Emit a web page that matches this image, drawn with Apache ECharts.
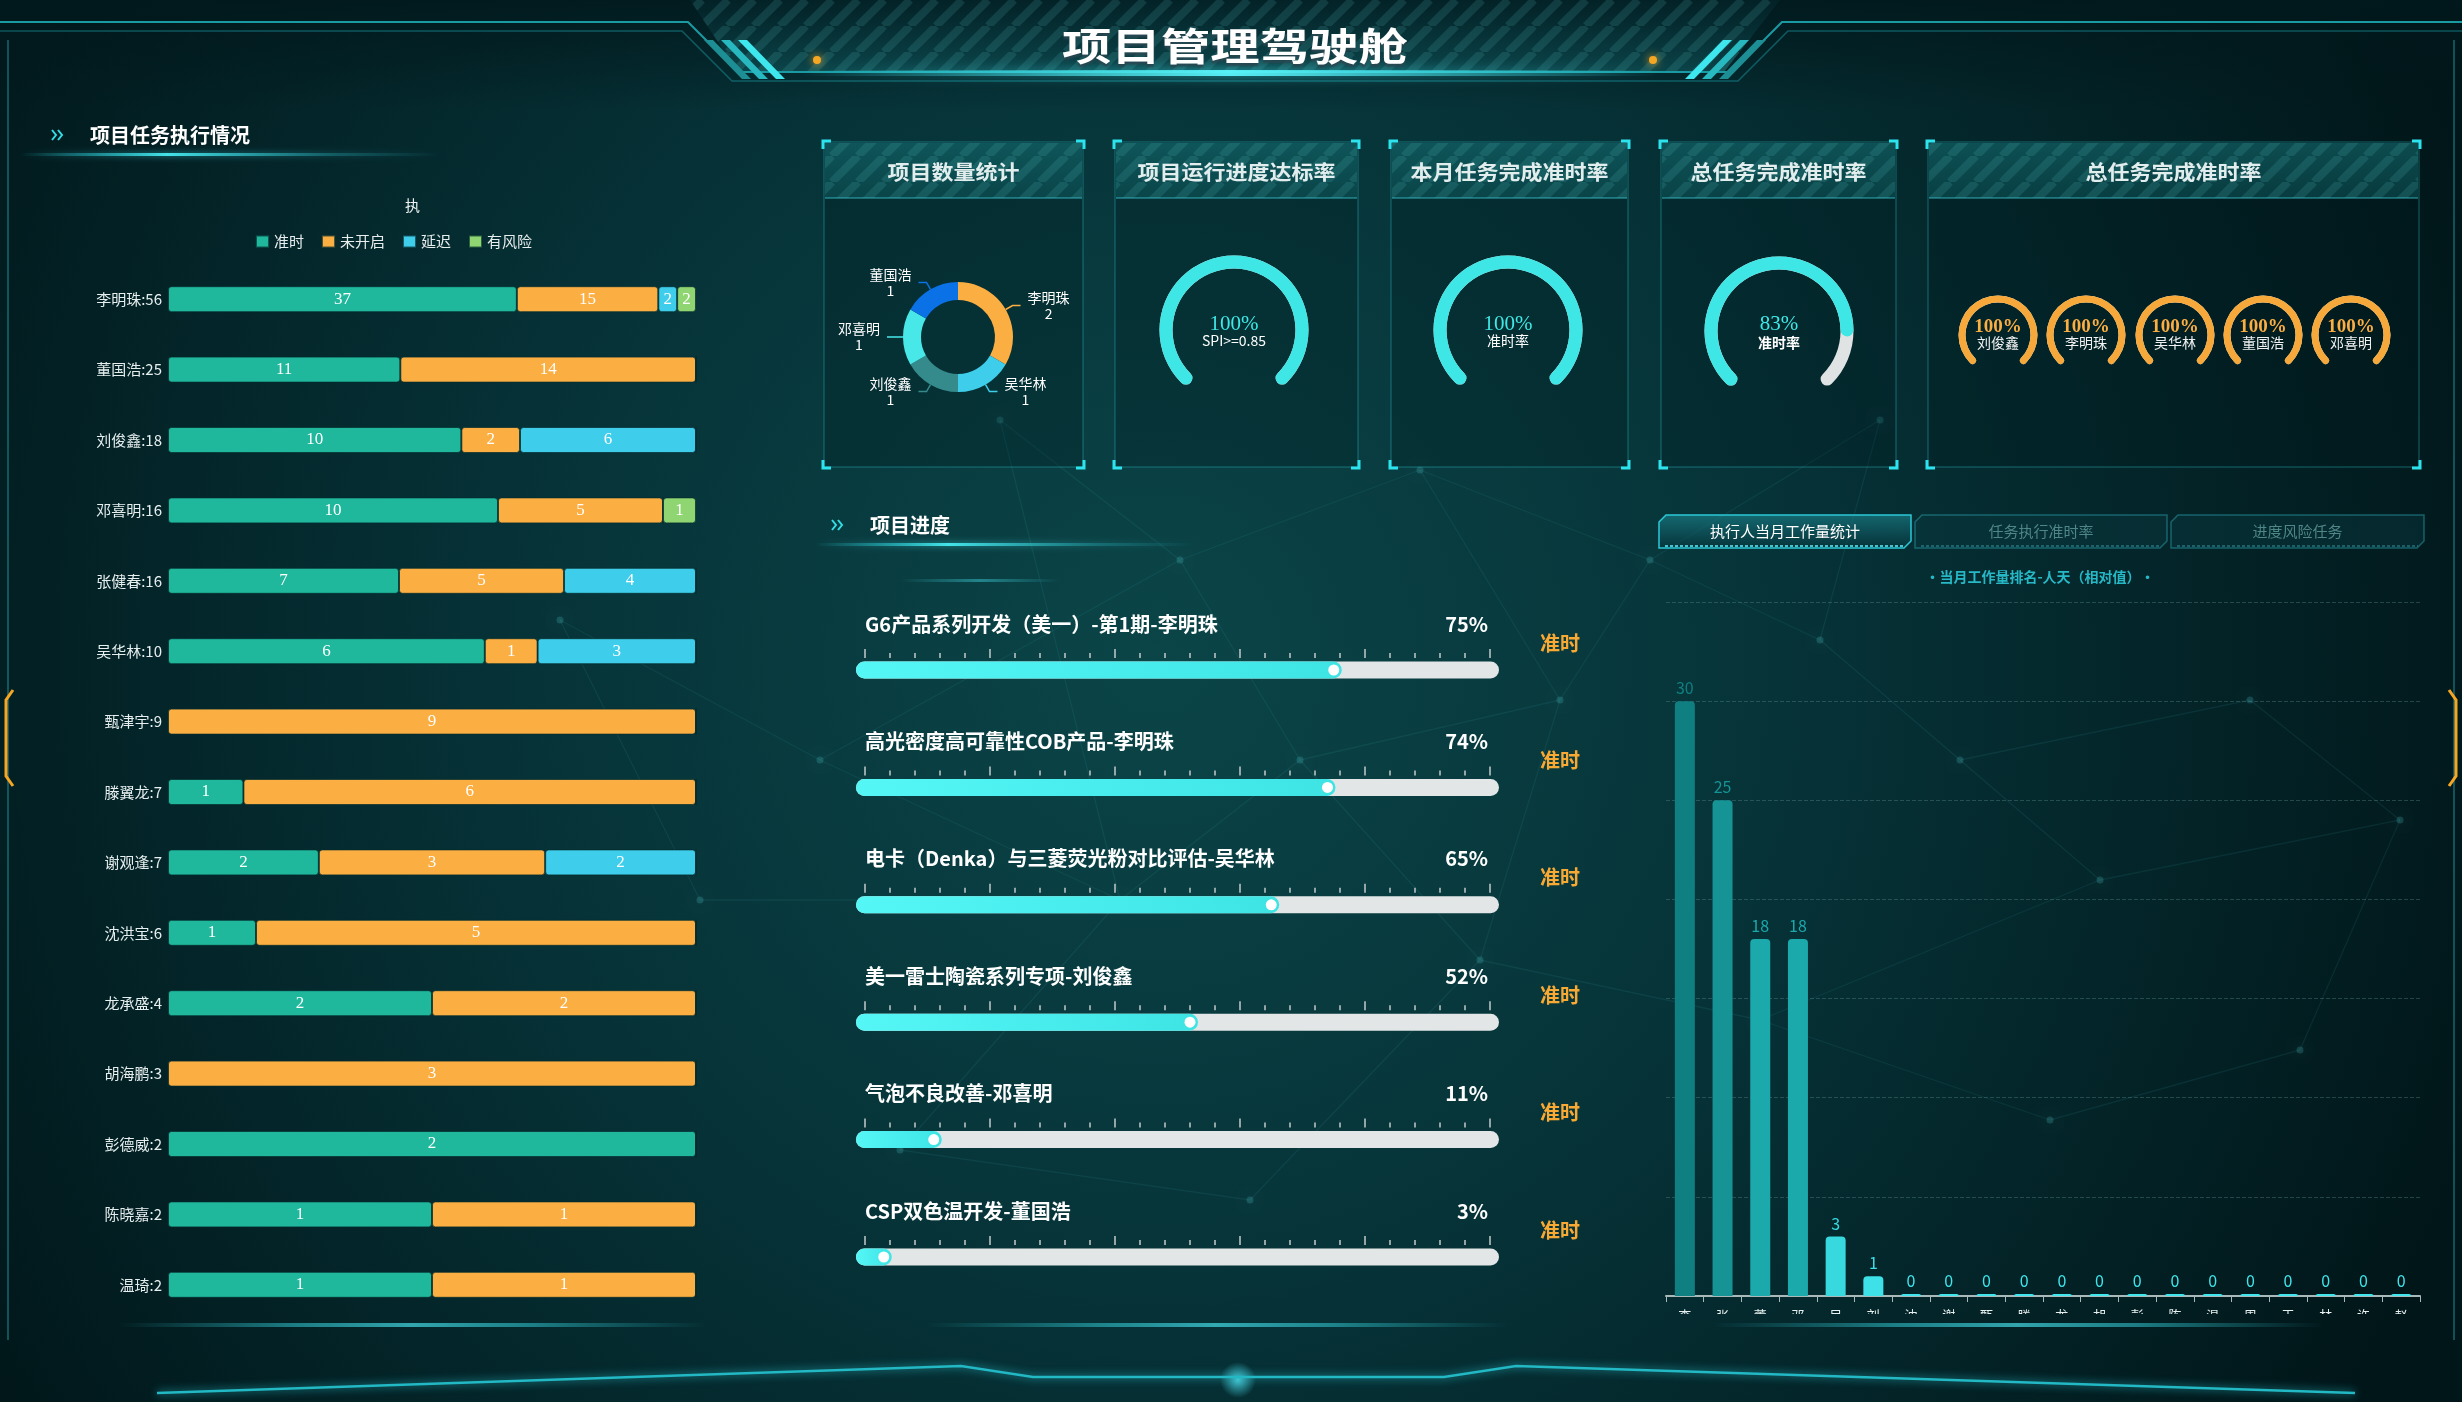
<!DOCTYPE html>
<html><head><meta charset="utf-8">
<script src="https://cdn.jsdelivr.net/npm/echarts@6/dist/echarts.min.js"></script>
<style>
html,body{margin:0;padding:0;width:2462px;height:1402px;overflow:hidden;background:#032427;}
#main{position:absolute;left:0;top:0;width:2462px;height:1402px;}
#work{position:absolute;left:1650px;top:590px;width:790px;height:724px;}
</style></head><body>
<div id="main"></div><div id="work"></div>
<script>
// ---------------- DATA ----------------
const pageTitle = '项目管理驾驶舱';
const taskPanelTitle = '项目任务执行情况';
const taskChartTitle = '执';
const statusNames = ['准时','未开启','延迟','有风险'];
const taskPeople = ['李明珠','董国浩','刘俊鑫','邓喜明','张健春','吴华林','甄津宇','滕翼龙','谢观逢','沈洪宝','龙承盛','胡海鹏','彭德威','陈晓嘉','温琦'];
const taskOnTime     = [37,11,10,10,7,6,0,1,2,1,2,0,2,1,1];
const taskNotStarted = [15,14,2,5,5,1,9,6,3,5,2,3,0,1,1];
const taskDelayed    = [2,0,6,0,4,3,0,0,2,0,0,0,0,0,0];
const taskRisk       = [2,0,0,1,0,0,0,0,0,0,0,0,0,0,0];

const projectPanelTitle = '项目数量统计';
const projectOwners = ['李明珠','吴华林','刘俊鑫','邓喜明','董国浩'];
const projectCounts = [2,1,1,1,1];

const kpiTitles = ['项目运行进度达标率','本月任务完成准时率','总任务完成准时率'];
const kpiValues = [100,100,83];
const kpiSubs = ['SPI>=0.85','准时率','准时率'];

const personRateTitle = '总任务完成准时率';
const personRateNames = ['刘俊鑫','李明珠','吴华林','董国浩','邓喜明'];
const personRateValues = [100,100,100,100,100];

const progressTitle = '项目进度';
const progressNames = ['G6产品系列开发（美一）-第1期-李明珠','高光密度高可靠性COB产品-李明珠','电卡（Denka）与三菱荧光粉对比评估-吴华林','美一雷士陶瓷系列专项-刘俊鑫','气泡不良改善-邓喜明','CSP双色温开发-董国浩'];
const progressValues = [75,74,65,52,11,3];
const progressStatus = ['准时','准时','准时','准时','准时','准时'];

const tabNames = ['执行人当月工作量统计','任务执行准时率','进度风险任务'];
const workloadSubtitle = '•当月工作量排名-人天（相对值）•';
const workloadNames = ['李明珠','张健春','董国浩','邓喜明','吴华林','刘俊鑫','沈洪宝','谢观逢','甄津宇','滕翼龙','龙承盛','胡海鹏','彭德威','陈晓嘉','温琦','周立','王涛','林峰','许明','赵磊'];
const workloadValues = [30,25,18,18,3,1,0,0,0,0,0,0,0,0,0,0,0,0,0,0];

// ---------------- STYLE ----------------
const W = 2462, H = 1402;
const F = "'Noto Sans CJK SC','Noto Sans',sans-serif";
const SERIF = "'Liberation Serif','DejaVu Serif',serif";
const statusColors = ['#1fb89d','#fbae42','#3ecdea','#8fd672'];
const pieColors = ['#fbae42','#3ecdea','#358a8b','#48e8e8','#0a72e6'];

function stripeCanvas(color){
  const c = document.createElement('canvas'); c.width = 26; c.height = 26;
  const g = c.getContext('2d'); g.strokeStyle = color; g.lineWidth = 8;
  for (let k = -26; k <= 52; k += 26){ g.beginPath(); g.moveTo(k,26); g.lineTo(k+26,0); g.stroke(); }
  return c;
}
const stripes = stripeCanvas('rgba(90,190,190,0.16)');

const G = [];
// background
G.push({type:'rect', z:-100, silent:true, shape:{x:0,y:0,width:W,height:H},
  style:{fill:{type:'radial',x:0.47,y:0.47,r:1.0,colorStops:[{offset:0,color:'#0b4548'},{offset:0.45,color:'#063338'},{offset:1,color:'#011619'}]}}});
G.push({type:'rect', z:-99, silent:true, shape:{x:0,y:0,width:W,height:110},
  style:{fill:{type:'linear',x:0,y:0,x2:0,y2:1,colorStops:[{offset:0,color:'rgba(1,24,28,0.85)'},{offset:1,color:'rgba(1,24,28,0)'}]}}});
// faint network texture (decoration)
const netNodes = [[1000,420],[1180,560],[1420,470],[1560,700],[1300,760],[1120,900],[1480,960],[1650,560],[1820,640],[1960,760],[2100,880],[2250,700],[2400,820],[1760,1020],[2050,1120],[900,1150],[1250,1200],[2300,1050],[700,900],[1880,420],[560,620],[820,760]];
const netEdges = [[0,1],[1,2],[1,4],[2,3],[3,4],[4,5],[4,6],[3,6],[3,7],[7,8],[8,9],[9,10],[9,11],[11,12],[10,12],[10,13],[13,6],[13,14],[14,17],[12,17],[5,15],[15,16],[16,6],[5,18],[7,19],[19,8],[2,7],[0,5],[18,20],[20,21],[21,5],[21,1]];
netEdges.forEach(e => G.push({type:'line', z:-90, silent:true, shape:{x1:netNodes[e[0]][0],y1:netNodes[e[0]][1],x2:netNodes[e[1]][0],y2:netNodes[e[1]][1]}, style:{stroke:'rgba(60,175,180,0.11)',lineWidth:1.3}}));
netNodes.forEach(n => G.push({type:'circle', z:-90, silent:true, shape:{cx:n[0],cy:n[1],r:3.5}, style:{fill:'rgba(80,200,205,0.22)',shadowBlur:10,shadowColor:'rgba(80,200,205,0.4)'}}));

// ---- top header ----
G.push({type:'polygon', z:1, silent:true, shape:{points:[[690,0],[1780,0],[1724,72],[738,72]]},
  style:{fill:{type:'linear',x:0,y:0,x2:0,y2:1,colorStops:[{offset:0,color:'rgba(6,50,56,0.3)'},{offset:1,color:'rgba(16,92,98,0.55)'}]}}});
G.push({type:'polygon', z:1, silent:true, shape:{points:[[690,0],[1780,0],[1724,72],[738,72]]}, style:{fill:{image:stripes,repeat:'repeat'}}});
G.push({type:'polyline', z:2, silent:true, shape:{points:[[0,22],[688,22],[738,72],[1732,72],[1782,22],[W,22]]}, style:{stroke:'#1a9aa2',lineWidth:2,fill:null}});
G.push({type:'polyline', z:2, silent:true, shape:{points:[[0,31],[682,31],[732,81],[1738,81],[1788,31],[W,31]]}, style:{stroke:'rgba(30,160,170,0.45)',lineWidth:1.5,fill:null}});
G.push({type:'rect', z:3, silent:true, shape:{x:800,y:70,width:860,height:6},
  style:{fill:{type:'linear',x:0,y:0,x2:1,y2:0,colorStops:[{offset:0,color:'rgba(60,230,240,0)'},{offset:0.5,color:'rgba(90,245,250,0.95)'},{offset:1,color:'rgba(60,230,240,0)'}]},shadowBlur:12,shadowColor:'rgba(60,230,240,0.8)'}});
const chevC = ['#1c8e94','#27b8c0','#3ee6ee'];
for (let k = 0; k < 3; k++){
  const x0 = 704 + k*17;
  G.push({type:'polygon', z:3, silent:true, shape:{points:[[x0,40],[x0+9,40],[x0+47,79],[x0+38,79]]}, style:{fill:chevC[k]}});
  const xr = 2470 - x0;
  G.push({type:'polygon', z:3, silent:true, shape:{points:[[xr,40],[xr-9,40],[xr-47,79],[xr-38,79]]}, style:{fill:chevC[k]}});
}
G.push({type:'circle', z:3, silent:true, shape:{cx:817,cy:60,r:4}, style:{fill:'#f5a623',shadowBlur:8,shadowColor:'#f5a623'}});
G.push({type:'circle', z:3, silent:true, shape:{cx:1653,cy:60,r:4}, style:{fill:'#f5a623',shadowBlur:8,shadowColor:'#f5a623'}});
G.push({type:'text', z:10, x:1235, y:46, scaleX:1.3, style:{text:pageTitle, x:0, y:0, textAlign:'center', verticalAlign:'middle', fill:'#ffffff', fontSize:38, fontWeight:'bold', fontFamily:F, textShadowColor:'rgba(40,70,80,0.9)', textShadowOffsetY:3, textShadowBlur:2}});

// ---- page side edges ----
G.push({type:'line', z:1, silent:true, shape:{x1:8,y1:40,x2:8,y2:1340}, style:{stroke:'rgba(40,170,180,0.4)',lineWidth:2}});
G.push({type:'line', z:1, silent:true, shape:{x1:W-8,y1:40,x2:W-8,y2:1340}, style:{stroke:'rgba(40,170,180,0.4)',lineWidth:2}});
G.push({type:'polyline', z:2, silent:true, shape:{points:[[13,690],[6,700],[6,776],[13,786]]}, style:{stroke:'#f5a623',lineWidth:3,fill:null}});
G.push({type:'polyline', z:2, silent:true, shape:{points:[[W-13,690],[W-6,700],[W-6,776],[W-13,786]]}, style:{stroke:'#f5a623',lineWidth:3,fill:null}});

// ---- section headers ----
function sectionHeader(ax, ay, text, gx, gw){
  [0,6].forEach(d => G.push({type:'polyline', z:5, silent:true, shape:{points:[[ax+d,ay-5],[ax+d+4,ay],[ax+d,ay+5]]}, style:{stroke:'#34dce6',lineWidth:2,fill:null}}));
  G.push({type:'text', z:10, style:{text:text, x:ax+38, y:ay, verticalAlign:'middle', fill:'#ffffff', fontSize:20, fontWeight:'bold', fontFamily:F}});
  G.push({type:'rect', z:3, silent:true, shape:{x:gx,y:ay+18,width:gw,height:3},
    style:{fill:{type:'linear',x:0,y:0,x2:1,y2:0,colorStops:[{offset:0,color:'rgba(40,200,210,0)'},{offset:0.15,color:'rgba(40,200,210,0.45)'},{offset:0.35,color:'rgba(70,235,240,0.95)'},{offset:0.75,color:'rgba(40,180,190,0.3)'},{offset:1,color:'rgba(40,180,190,0)'}]},shadowBlur:6,shadowColor:'rgba(60,220,230,0.7)'}});
}
sectionHeader(52, 135, taskPanelTitle, 20, 420);
sectionHeader(832, 525, progressTitle, 815, 380);
G.push({type:'rect', z:3, silent:true, shape:{x:900,y:579,width:160,height:3},
  style:{fill:{type:'linear',x:0,y:0,x2:1,y2:0,colorStops:[{offset:0,color:'rgba(60,200,210,0)'},{offset:0.5,color:'rgba(60,200,210,0.5)'},{offset:1,color:'rgba(60,200,210,0)'}]}}});

// ---- top panels ----
const panels = [[824,1083],[1115,1358],[1391,1628],[1661,1896],[1928,2419]];
const panelTitles = [projectPanelTitle, kpiTitles[0], kpiTitles[1], kpiTitles[2], personRateTitle];
panels.forEach((p, i) => {
  const x0 = p[0], x1 = p[1], y0 = 142, y1 = 467, w = x1 - x0;
  G.push({type:'rect', z:1, silent:true, shape:{x:x0,y:y0,width:w,height:y1-y0}, style:{fill:'rgba(1,26,30,0.28)', stroke:'rgba(45,190,200,0.45)', lineWidth:1}});
  G.push({type:'rect', z:1, silent:true, shape:{x:x0+1,y:y0+1,width:w-2,height:55},
    style:{fill:{type:'linear',x:0,y:0,x2:0,y2:1,colorStops:[{offset:0,color:'rgba(22,118,122,0.55)'},{offset:1,color:'rgba(14,92,96,0.5)'}]}}});
  G.push({type:'rect', z:1, silent:true, shape:{x:x0+1,y:y0+1,width:w-2,height:55}, style:{fill:{image:stripes,repeat:'repeat'}}});
  G.push({type:'line', z:2, silent:true, shape:{x1:x0+1,y1:y0+56,x2:x1-1,y2:y0+56}, style:{stroke:'rgba(60,200,210,0.55)',lineWidth:1.5}});
  const a = 8, cc = '#2de4ee';
  [[x0-1,y0-1,1,1],[x1+1,y0-1,-1,1],[x0-1,y1+1,1,-1],[x1+1,y1+1,-1,-1]].forEach(c => {
    G.push({type:'polyline', z:3, silent:true, shape:{points:[[c[0],c[1]+c[3]*a],[c[0],c[1]],[c[0]+c[2]*a,c[1]]]}, style:{stroke:cc,lineWidth:3,fill:null}});
  });
  G.push({type:'text', z:10, x:(x0+x1)/2, y:y0+30, scaleX:1.1, style:{text:panelTitles[i], x:0, y:0, textAlign:'center', verticalAlign:'middle', fill:'#e2eeee', fontSize:20, fontWeight:'bold', fontFamily:F, textShadowColor:'rgba(0,0,0,0.4)', textShadowOffsetY:1}});
});

// ---- tabs ----
const tabs = [[1659,1911],[1915,2167],[2171,2424]];
tabs.forEach((t, i) => {
  const x0 = t[0], x1 = t[1], y0 = 515, y1 = 548, act = i === 0;
  G.push({type:'polygon', z:2, silent:true, shape:{points:[[x0+7,y0],[x1,y0],[x1,y1-7],[x1-7,y1],[x0,y1],[x0,y0+7]]},
    style:{fill:act?{type:'linear',x:0,y:0,x2:0,y2:1,colorStops:[{offset:0,color:'rgba(30,140,150,0.6)'},{offset:1,color:'rgba(6,50,58,0.6)'}]}:'rgba(8,58,64,0.45)',
      stroke:act?'#2bc8d8':'rgba(40,150,160,0.55)', lineWidth:1.5}});
  G.push({type:'line', z:3, silent:true, shape:{x1:x0+6,y1:y1-2,x2:x1-6,y2:y1-2}, style:{stroke:act?'rgba(90,230,240,0.8)':'rgba(60,160,170,0.45)',lineWidth:2, lineDash:[3,2]}});
  G.push({type:'text', z:10, style:{text:tabNames[i], x:(x0+x1)/2, y:531, textAlign:'center', verticalAlign:'middle', fill:act?'#ffffff':'#4f8688', fontSize:15, fontFamily:F}});
});
G.push({type:'text', z:10, style:{text:workloadSubtitle, x:2040, y:577, textAlign:'center', verticalAlign:'middle', fill:'#26b8c6', fontSize:14, fontWeight:'bold', fontFamily:F}});

// ---- bottom decorations ----
[[118,706],[926,1507],[1711,2323]].forEach(s => {
  G.push({type:'rect', z:2, silent:true, shape:{x:s[0],y:1323,width:s[1]-s[0],height:4},
    style:{fill:{type:'linear',x:0,y:0,x2:1,y2:0,colorStops:[{offset:0,color:'rgba(40,190,200,0)'},{offset:0.3,color:'rgba(50,200,210,0.55)'},{offset:0.5,color:'rgba(70,220,230,0.7)'},{offset:0.7,color:'rgba(50,200,210,0.55)'},{offset:1,color:'rgba(40,190,200,0)'}]}}});
});
G.push({type:'ellipse', z:1, silent:true, shape:{cx:1238,cy:1380,rx:150,ry:18},
  style:{fill:{type:'radial',x:0.5,y:0.5,r:0.5,colorStops:[{offset:0,color:'rgba(80,230,245,0.8)'},{offset:1,color:'rgba(80,230,245,0)'}]}}});
G.push({type:'polyline', z:2, silent:true, shape:{points:[[157,1393],[961,1366],[1033,1377],[1444,1377],[1516,1366],[2355,1393]]},
  style:{stroke:'#22b8c4',lineWidth:2.5,fill:null,shadowBlur:8,shadowColor:'rgba(50,220,235,0.8)'}});

// ---------------- derived values for the 100% stacked bar ----------------
const taskRaw = [taskOnTime, taskNotStarted, taskDelayed, taskRisk];
const taskTotals = taskPeople.map((n, i) => taskRaw.reduce((s, arr) => s + arr[i], 0));
const taskPct = taskRaw.map(arr => arr.map((v, i) => v / taskTotals[i] * 100));

// ---------------- grids / axes ----------------
const progCenters = progressValues.map((v, i) => 670 + 117.4 * i);
const grids = [
  {left:168, top:264, width:528, height:1056, outerBoundsMode:'none'},
  {left:856, top:611.3, width:643, height:704.4, outerBoundsMode:'none'}
];
const xAxes = [
  {gridIndex:0, type:'value', min:0, max:100, show:false},
  {gridIndex:1, type:'value', min:-1.44, max:101.44, show:false}
];
const yAxes = [
  {gridIndex:0, type:'category', inverse:true, data:taskPeople.map((n, i) => n + ':' + taskTotals[i]),
    axisLine:{show:false}, axisTick:{show:false}, axisLabel:{color:'#e6eeee', fontSize:15, margin:6, fontFamily:F, interval:0}},
  {gridIndex:1, type:'category', inverse:true, data:progressNames, show:false}
];
progCenters.forEach((cy, i) => {
  grids.push({left:865, top:cy - 14, width:625, height:2, outerBoundsMode:'none'});
  xAxes.push({gridIndex:2 + i, type:'value', min:0, max:100, interval:20, position:'top',
    axisLine:{show:false}, axisLabel:{show:false}, splitLine:{show:false},
    axisTick:{show:true, length:9, lineStyle:{color:'#c2caca', width:1.5}},
    minorTick:{show:true, splitNumber:5, length:5, lineStyle:{color:'#c2caca', width:1.5}}});
  yAxes.push({gridIndex:2 + i, type:'value', show:false});
});

// ---------------- series ----------------
const series = [];
statusNames.forEach((nm, si) => {
  series.push({name:nm, type:'bar', stack:'task', xAxisIndex:0, yAxisIndex:0, barWidth:26,
    data:taskPct[si],
    itemStyle:{color:statusColors[si], borderRadius:3, borderColor:'rgba(4,44,46,0.7)', borderWidth:1},
    label:{show:true, position:'inside', color:'#ffffff', textBorderWidth:0, fontFamily:SERIF, fontSize:17,
      formatter: p => taskRaw[si][p.dataIndex] ? String(taskRaw[si][p.dataIndex]) : ''},
    emphasis:{disabled:true}});
});

series.push({type:'custom', xAxisIndex:1, yAxisIndex:1, silent:true,
  data: progressValues.map((v, i) => [v, i]),
  encode:{x:0, y:1},
  renderItem: (params, api) => {
    const idx = params.dataIndex;
    const v = api.value(0);
    const pt = api.coord([v, idx]);
    const p0 = api.coord([0, idx]);
    const p100 = api.coord([100, idx]);
    const cs = params.coordSys;
    const cy = pt[1], h = 17;
    return {type:'group', children:[
      {type:'rect', shape:{x:cs.x, y:cy - h/2, width:cs.width, height:h, r:h/2}, style:{fill:'#e3e6e6'}},
      {type:'rect', shape:{x:cs.x, y:cy - h/2, width:pt[0] - cs.x + 8, height:h, r:h/2},
        style:{fill:{type:'linear',x:0,y:0,x2:1,y2:0,colorStops:[{offset:0,color:'#55f6f6'},{offset:1,color:'#3ee4e4'}]}}},
      {type:'circle', shape:{cx:pt[0], cy:cy, r:5.5}, style:{fill:'#ffffff'}},
      {type:'text', style:{text:progressNames[idx], x:p0[0], y:cy - 46, verticalAlign:'middle', textAlign:'left', fill:'#ffffff', fontSize:20, fontWeight:'bold', fontFamily:F}},
      {type:'text', style:{text:v + '%', x:p100[0] - 2, y:cy - 46, verticalAlign:'middle', textAlign:'right', fill:'#ffffff', fontSize:20, fontWeight:'bold', fontFamily:F}},
      {type:'text', style:{text:progressStatus[idx], x:p100[0] + 70, y:cy - 27, verticalAlign:'middle', textAlign:'center', fill:'#f7a934', fontSize:20, fontWeight:'bold', fontFamily:F}}
    ]};
  }});

series.push({type:'pie', center:[958,337], radius:[37,55], startAngle:90, silent:true,
  data: projectOwners.map((n, i) => ({name:n, value:projectCounts[i], itemStyle:{color:pieColors[i]}})),
  label:{formatter:'{a|{b}}\n{a|{c}}', rich:{a:{width:46, align:'center', color:'#ffffff', fontSize:14, lineHeight:16, fontFamily:F}}},
  labelLine:{length:8, length2:8, lineStyle:{width:1.5}},
  emphasis:{disabled:true}});

const bigCenters = [[1234,330],[1508,330],[1779,331]];
kpiValues.forEach((v, i) => {
  series.push({type:'gauge', center:bigCenters[i], radius:74.5, startAngle:225, endAngle:-45, min:0, max:100, silent:true,
    progress:{show:true, width:13, roundCap:true, itemStyle:{color:'#3fe6e6'}},
    axisLine:{roundCap:true, lineStyle:{width:13, color:[[1,'#dfe3e3']]}},
    axisTick:{show:false}, splitLine:{show:false}, axisLabel:{show:false}, anchor:{show:false}, title:{show:false},
    pointer:{show:true, icon:'circle', width:8, length:8, offsetCenter:[0,-64], itemStyle:{color:'#ffffff'}},
    detail:{offsetCenter:[0, i === 2 ? 3 : 2], valueAnimation:false, fontWeight:'normal',
      formatter: val => '{v|' + val + '%}\n{' + (i === 2 ? 'b' : 's') + '|' + kpiSubs[i] + '}',
      rich:{v:{fontSize:21, fontFamily:SERIF, fontWeight:'normal', color:'#3ee8e6', lineHeight:18},
            s:{fontSize:14, fontFamily:F, fontWeight:'normal', color:'#ffffff', lineHeight:16},
            b:{fontSize:14, fontFamily:F, color:'#ffffff', fontWeight:'bold', lineHeight:20}}},
    data:[{value:v}]});
});

const smallX = [1998,2086,2175,2263,2351];
personRateValues.forEach((v, i) => {
  series.push({type:'gauge', center:[smallX[i],335], radius:39.5, startAngle:225, endAngle:-45, min:0, max:100, silent:true,
    progress:{show:true, width:7, roundCap:true, itemStyle:{color:'#f6a93a'}},
    axisLine:{roundCap:true, lineStyle:{width:7, color:[[1,'#dfe3e3']]}},
    axisTick:{show:false}, splitLine:{show:false}, axisLabel:{show:false}, anchor:{show:false}, title:{show:false},
    pointer:{show:true, icon:'circle', width:5, length:5, offsetCenter:[0,-33.5], itemStyle:{color:'#ffffff'}},
    detail:{offsetCenter:[0,0], valueAnimation:false,
      formatter: val => '{v|' + val + '%}\n{s|' + personRateNames[i] + '}',
      rich:{v:{fontSize:19, fontFamily:SERIF, fontWeight:'bold', color:'#fbae42', lineHeight:16},
            s:{fontSize:14, fontFamily:F, fontWeight:'normal', color:'#f2f2f2', lineHeight:16}}},
    data:[{value:v}]});
});

const chart = echarts.init(document.getElementById('main'), null, {width:W, height:H});
chart.setOption({
  animation:false,
  textStyle:{fontFamily:F},
  title:{text:taskChartTitle, left:400, top:193, textStyle:{color:'#eef2f2', fontSize:15, fontWeight:'normal', fontFamily:F}},
  legend:{data:statusNames, left:250, top:229, icon:'rect', itemWidth:13, itemHeight:12, itemGap:17,
    textStyle:{color:'#e8eeee', fontSize:15, fontFamily:F}},
  grid:grids, xAxis:xAxes, yAxis:yAxes, series:series, graphic:G
});

// ---------------- workload chart (clipped at its bottom like the reference) ----------------
const chart2 = echarts.init(document.getElementById('work'), null, {width:790, height:724});
chart2.setOption({
  animation:false,
  textStyle:{fontFamily:F},
  grid:{left:16, top:12, width:754, height:694, outerBoundsMode:'none'},
  visualMap:{type:'continuous', show:false, seriesIndex:0, min:0, max:30,
    inRange:{color:['#40e6ec','#22b6bc','#1aa6a8','#0f7f81']}},
  xAxis:{type:'category', data:workloadNames,
    axisLine:{lineStyle:{color:'#a9b9b9', width:2}},
    axisTick:{show:true, length:6, lineStyle:{color:'#a9b9b9'}},
    axisLabel:{color:'#e8f0f0', fontSize:13, lineHeight:14, margin:12, interval:0, fontFamily:F, verticalAlign:'top',
      formatter: n => n.split('').join('\n')}},
  yAxis:{type:'value', min:0, max:35, interval:5,
    axisLabel:{show:false}, axisLine:{show:false}, axisTick:{show:false},
    splitLine:{lineStyle:{type:'dashed', color:'rgba(100,150,150,0.35)'}}},
  series:[{type:'bar', data:workloadValues, barWidth:20, barMinHeight:2, silent:true,
    itemStyle:{borderRadius:[4,4,0,0]},
    label:{show:true, position:'top', distance:5, fontSize:16, fontFamily:F, color:'inherit', textBorderWidth:0}}]
});
</script>
</body></html>
